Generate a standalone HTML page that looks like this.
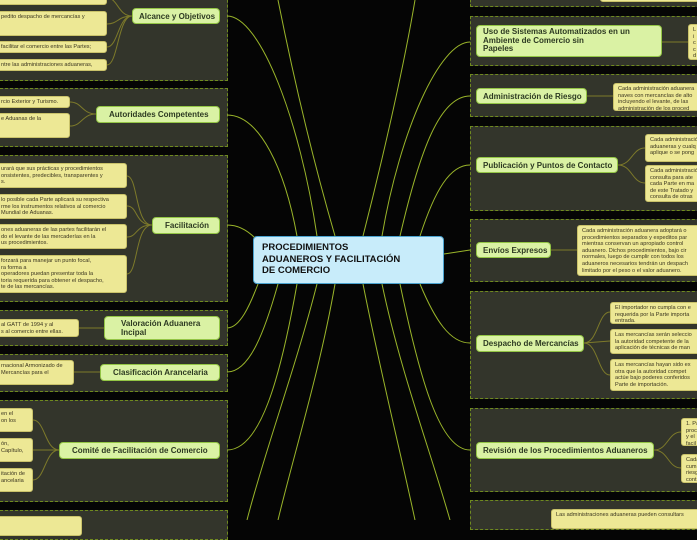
<!DOCTYPE html>
<html><head><meta charset="utf-8"><style>
body{margin:0;width:697px;height:520px;background:#050505;position:relative;overflow:hidden;font-family:"Liberation Sans",sans-serif;}
.p{position:absolute;background:#33352b;border:1.5px dashed #6f8a1f;box-sizing:border-box}
.t{position:absolute;background:#daf2a4;border:1.5px solid #93c545;border-radius:4px;box-sizing:border-box;font-weight:bold;font-size:8px;color:#2d3a22;display:flex;align-items:center;padding:0 0 0 6px;line-height:9px;white-space:nowrap;overflow:hidden}
.c{position:absolute;background:#ede895;border:1px solid #c9c26a;border-radius:3px;box-sizing:border-box;font-size:5.6px;color:#3a3520;line-height:6.6px;padding:2px 4px;overflow:hidden;white-space:nowrap}
svg{position:absolute;left:0;top:0}
</style></head><body>
<div class="p" style="left:-5px;top:-10px;width:233px;height:91px"></div>
<div class="p" style="left:-5px;top:88px;width:233px;height:59px"></div>
<div class="p" style="left:-5px;top:155px;width:233px;height:147px"></div>
<div class="p" style="left:-5px;top:310px;width:233px;height:36px"></div>
<div class="p" style="left:-5px;top:354px;width:233px;height:38px"></div>
<div class="p" style="left:-5px;top:400px;width:233px;height:102px"></div>
<div class="p" style="left:-5px;top:510px;width:233px;height:30px"></div>
<div class="p" style="left:470px;top:-10px;width:240px;height:17px"></div>
<div class="p" style="left:470px;top:16px;width:240px;height:50px"></div>
<div class="p" style="left:470px;top:74px;width:240px;height:43px"></div>
<div class="p" style="left:470px;top:126px;width:240px;height:85px"></div>
<div class="p" style="left:470px;top:219px;width:240px;height:63px"></div>
<div class="p" style="left:470px;top:291px;width:240px;height:108px"></div>
<div class="p" style="left:470px;top:408px;width:240px;height:84px"></div>
<div class="p" style="left:470px;top:500px;width:240px;height:30px"></div>

<svg width="697" height="520" fill="none">
<g stroke="#9ab52a" stroke-width="1">
<path d="M317 236 C300 120 260 16 227 16"/>
<path d="M297 236 C285 170 260 115 227 115"/>
<path d="M255 238 C245 228 235 225 227 225"/>
<path d="M335 236 C310 150 290 60 278 0"/>
<path d="M363 236 C385 150 405 60 415 0"/>
<path d="M382 236 C400 130 440 42 470 42"/>
<path d="M400 236 C420 150 440 96 470 96"/>
<path d="M420 236 C435 190 450 165 470 165"/>
<path d="M444 254 L470 250"/>
<path d="M258 284 C250 305 240 328 227 328"/>
<path d="M278 284 C265 330 250 372 227 372"/>
<path d="M297 284 C280 380 260 450 227 450"/>
<path d="M317 284 C295 370 265 450 247 520"/>
<path d="M335 284 C320 370 295 450 278 520"/>
<path d="M363 284 C380 370 400 450 415 520"/>
<path d="M382 284 C400 370 430 450 450 520"/>
<path d="M400 284 C420 380 440 450 470 450"/>
<path d="M420 284 C435 320 450 343 470 343"/>
</g>
<g stroke="#7d7a2a" stroke-width="1">
<path d="M132 16 C118 16 118 -2 107 -2"/><path d="M132 16 C118 16 118 24 107 24"/><path d="M132 16 C118 16 118 47 107 47"/><path d="M132 16 C118 16 118 65 107 65"/>
<path d="M96 114 C82 114 82 102 70 102"/><path d="M96 114 C82 114 82 126 70 126"/>
<path d="M152 225 C135 225 138 176 127 176"/><path d="M152 225 C135 225 138 206 127 206"/><path d="M152 225 C135 225 138 237 127 237"/><path d="M152 225 C135 225 138 274 127 274"/>
<path d="M104 328 L79 328"/><path d="M100 372 L74 372"/>
<path d="M59 450 C45 450 45 420 33 420"/><path d="M59 450 L33 450"/><path d="M59 450 C45 450 45 480 33 480"/>
<path d="M662 42 L688 42"/><path d="M587 96 L613 96"/>
<path d="M618 165 C632 165 632 148 645 148"/><path d="M618 165 C632 165 632 183 645 183"/>
<path d="M551 250 L577 250"/>
<path d="M584 343 C598 343 598 312 610 312"/><path d="M584 343 L610 341"/><path d="M584 343 C598 343 598 375 610 375"/>
<path d="M654 450 C668 450 668 432 681 432"/><path d="M654 450 C668 450 668 468 681 468"/>
</g>
</svg>

<div class="c" style="left:-10px;top:-10px;width:117px;height:15px"></div>
<div class="c" style="left:-10px;top:11px;width:117px;height:25px;padding-left:10px">pedito despacho de mercancías y</div>
<div class="c" style="left:-10px;top:41px;width:117px;height:12px;padding-left:10px">facilitar el comercio entre las Partes;</div>
<div class="c" style="left:-10px;top:59px;width:117px;height:12px;padding-left:10px">ntre las administraciones aduaneras,</div>
<div class="t" style="left:132px;top:8px;width:88px;height:16px;">Alcance y Objetivos</div>

<div class="c" style="left:-10px;top:96px;width:80px;height:12px;padding-left:10px">rcio Exterior y Turismo.</div>
<div class="c" style="left:-10px;top:113px;width:80px;height:25px;padding-left:10px">e Aduanas de la</div>
<div class="t" style="left:96px;top:106px;width:124px;height:17px;padding-left:12px">Autoridades Competentes</div>

<div class="c" style="left:-10px;top:163px;width:137px;height:25px;padding-left:10px">urará que sus prácticas y procedimientos<br>onsistentes, predecibles, transparentes y<br>s.</div>
<div class="c" style="left:-10px;top:194px;width:137px;height:25px;padding-left:10px"> lo posible cada Parte aplicará su respectiva<br>rme los instrumentos relativos al comercio<br> Mundial de Aduanas.</div>
<div class="c" style="left:-10px;top:224px;width:137px;height:25px;padding-left:10px">ones aduaneras de las partes facilitarán el<br>do el levante de las mercaderías en la<br>us procedimientos.</div>
<div class="c" style="left:-10px;top:255px;width:137px;height:38px;padding-left:10px">forzará para manejar un punto focal,<br>ra forma a<br> operadores puedan presentar toda la<br>toria requerida para obtener el despacho,<br>te de las mercancías.</div>
<div class="t" style="left:152px;top:217px;width:68px;height:17px;padding-left:12px">Facilitación</div>

<div class="c" style="left:-10px;top:319px;width:89px;height:18px;padding-left:10px">al GATT de 1994 y al<br>s al comercio entre ellas.</div>
<div class="t" style="left:104px;top:316px;width:116px;height:24px;padding-left:16px">Valoración Aduanera<br>Incipal</div>

<div class="c" style="left:-10px;top:360px;width:84px;height:25px;padding-left:10px">rnacional Armonizado de<br> Mercancías para el</div>
<div class="t" style="left:100px;top:364px;width:120px;height:17px;padding-left:12px">Clasificación Arancelaria</div>

<div class="c" style="left:-10px;top:408px;width:43px;height:24px;padding-left:10px">en el<br>on los</div>
<div class="c" style="left:-10px;top:438px;width:43px;height:24px;padding-left:10px">ón,<br>Capítulo,</div>
<div class="c" style="left:-10px;top:468px;width:43px;height:24px;padding-left:10px">itación de<br>ancelaria</div>
<div class="t" style="left:59px;top:442px;width:161px;height:17px;padding-left:12px">Comité de Facilitación de Comercio</div>
<div class="c" style="left:-10px;top:516px;width:92px;height:20px"></div>

<div style="position:absolute;left:253px;top:236px;width:191px;height:48px;box-sizing:border-box;background:#c8ecfa;border:1.5px solid #4aa3d0;border-radius:4px;font-weight:bold;font-size:9.5px;line-height:11.5px;color:#111;padding:5px 8px">PROCEDIMIENTOS<br>ADUANEROS Y FACILITACIÓN<br>DE COMERCIO</div>

<div class="c" style="left:600px;top:-10px;width:110px;height:12px"></div>
<div class="t" style="left:476px;top:25px;width:186px;height:32px;line-height:8.5px">Uso de Sistemas Automatizados en un<br>Ambiente de Comercio sin<br>Papeles</div>
<div class="c" style="left:688px;top:24px;width:20px;height:36px">L<br>i<br>c<br>c<br>d</div>
<div class="t" style="left:476px;top:88px;width:111px;height:16px">Administración de Riesgo</div>
<div class="c" style="left:613px;top:83px;width:95px;height:28px">Cada administración aduanera<br>naves con mercancías de alto<br>incluyendo el levante, de las<br>administración de los proced</div>
<div class="t" style="left:476px;top:157px;width:142px;height:16px">Publicación y Puntos de Contacto</div>
<div class="c" style="left:645px;top:134px;width:63px;height:28px">Cada administració<br>aduaneras y cualq<br>aplique o se pong</div>
<div class="c" style="left:645px;top:165px;width:63px;height:37px">Cada administració<br>consulta para ate<br>cada Parte en ma<br>de este Tratado y<br>consulta de otras</div>
<div class="t" style="left:476px;top:242px;width:75px;height:16px">Envíos Expresos</div>
<div class="c" style="left:577px;top:225px;width:131px;height:51px">Cada administración aduanera adoptará o<br>procedimientos separados y expeditos par<br>mientras conservan un apropiado control<br>aduanero. Dichos procedimientos, bajo cir<br>normales, luego de cumplir con todos los<br>aduaneros necesarios tendrán un despach<br>limitado por el peso o el valor aduanero.</div>
<div class="t" style="left:476px;top:335px;width:108px;height:17px">Despacho de Mercancías</div>
<div class="c" style="left:610px;top:302px;width:98px;height:22px">El importador no cumpla con e<br>requerida por la Parte importa<br>entrada.</div>
<div class="c" style="left:610px;top:329px;width:98px;height:25px">Las mercancías serán seleccio<br>la autoridad competente de la<br>aplicación de técnicas de man</div>
<div class="c" style="left:610px;top:359px;width:98px;height:32px">Las mercancías hayan sido ex<br>otra que la  autoridad compet<br>actúe bajo poderes conferidos<br>Parte de importación.</div>
<div class="t" style="left:476px;top:442px;width:178px;height:17px">Revisión de los Procedimientos Aduaneros</div>
<div class="c" style="left:681px;top:418px;width:27px;height:28px">1. Pa<br>proc<br>y el<br>facil</div>
<div class="c" style="left:681px;top:454px;width:27px;height:29px">Cada<br>cum<br>riesg<br>cont</div>
<div class="c" style="left:551px;top:509px;width:157px;height:20px">Las administraciones aduaneras pueden consultars</div>
</body></html>
